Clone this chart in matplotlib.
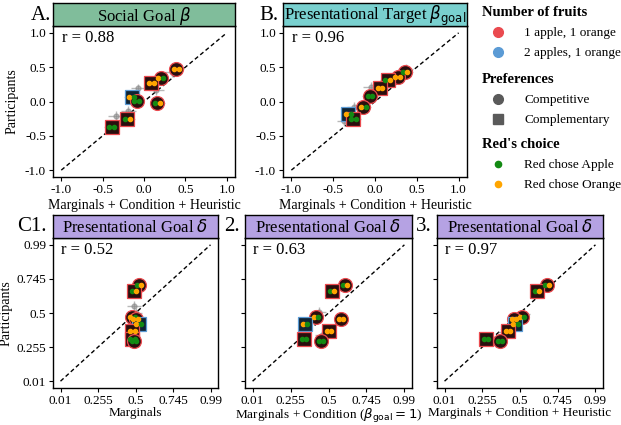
import matplotlib
matplotlib.use("Agg")
import matplotlib.pyplot as plt
from matplotlib.lines import Line2D

plt.rcParams['font.family'] = ['Liberation Serif', 'DejaVu Serif']
plt.rcParams['mathtext.fontset'] = 'dejavusans'
plt.rcParams['axes.unicode_minus'] = False

# ---- data ----
# panel A: Social Goal beta
a_x = [0.39, 0.20, 0.09, -0.15, -0.09, 0.16, -0.20, -0.39]
a_y = [0.47, 0.34, 0.27, 0.06, 0.01, -0.02, -0.25, -0.37]
a_shape = ['o', 'o', 's', 's', 'o', 'o', 's', 's']
a_fruits = ['1', '1', '1', '2', '1', '1', '1', '1']
a_dots = [('O', 'O'), ('O', 'G'), ('O', 'O'), ('O', 'G'), ('G', 'G'), ('G', 'O'), ('G', 'O'), ('G', 'G')]
a_grey_x = [-0.07, -0.19, -0.34, 0.15, 0.34]
a_grey_y = [0.19, -0.14, -0.21, 0.17, 0.43]

# panel B: Presentational Target beta_goal
b_x = [0.36, 0.27, 0.15, 0.06, -0.06, -0.14, -0.32, -0.26]
b_y = [0.43, 0.35, 0.32, 0.20, 0.08, -0.08, -0.18, -0.26]
b_shape = ['o', 'o', 's', 's', 'o', 'o', 's', 's']
b_fruits = ['1', '1', '1', '1', '1', '1', '2', '1']
b_dots = [('G', 'O'), ('O', 'O'), ('G', 'O'), ('O', 'O'), ('G', 'G'), ('O', 'G'), ('O', 'G'), ('G', 'G')]
b_grey_x = [-0.05, -0.25, -0.37, 0.37]
b_grey_y = [0.21, -0.08, -0.29, 0.47]

# panels C: Presentational Goal delta (same participants, three models)
c_y = [0.70, 0.655, 0.474, 0.460, 0.421, 0.372, 0.312, 0.302]
c_shape = ['o', 's', 'o', 'o', 's', 's', 's', 'o']
c_fruits = ['1', '1', '1', '1', '2', '1', '1', '1']
c_dots = [('G', 'O'), ('G', 'O'), ('O', 'G'), ('O', 'O'), ('O', 'G'), ('O', 'O'), ('G', 'G'), ('G', 'G')]
c1_x = [0.525, 0.49, 0.48, 0.50, 0.52, 0.48, 0.48, 0.49]
c2_x = [0.606, 0.524, 0.419, 0.580, 0.348, 0.505, 0.343, 0.451]
c3_x = [0.676, 0.611, 0.513, 0.463, 0.470, 0.422, 0.281, 0.368]
c1_grey_x, c1_grey_y = [0.50, 0.49], [0.50, 0.55]
c2_grey_x, c2_grey_y = [0.44, 0.46], [0.51, 0.34]
c3_grey_x, c3_grey_y = [0.52, 0.40], [0.49, 0.36]

r_values = ['0.88', '0.96', '0.52', '0.63', '0.97']
ab_ticks = [-1.0, -0.5, 0.0, 0.5, 1.0]
ab_labels = ['-1.0', '-0.5', '0.0', '0.5', '1.0']
c_ticks = [0.01, 0.255, 0.5, 0.745, 0.99]
c_labels = ['0.01', '0.255', '0.5', '0.745', '0.99']

EDGE = {'1': '#ea4a4f', '2': '#5b9bd5'}
FILL = {'1': '#2a0e0e', '2': '#0f2435'}
DOT = {'G': '#138a13', 'O': '#ffa500'}

W, H = 621, 425
fig = plt.figure(figsize=(W / 100, H / 100), dpi=100)


def rect(l, t, r, b):
    return [l / W, 1 - b / H, (r - l) / W, (b - t) / H]


def panel(box, strip_top, strip_col, title, letter, letter_x):
    l, t, r, b = box
    ax = fig.add_axes(rect(l, t, r, b))
    st = fig.add_axes(rect(l, strip_top, r, t))
    st.set_facecolor(strip_col)
    st.set_xticks([])
    st.set_yticks([])
    for s in st.spines.values():
        s.set_linewidth(1.0)
    st.text(0.5, 0.45, title, ha='center', va='center', fontsize=12, transform=st.transAxes)
    fig.text(letter_x / W, 1 - (strip_top + 12) / H, letter, fontsize=15, va='center', ha='left')
    for s in ax.spines.values():
        s.set_linewidth(1.0)
    ax.tick_params(labelsize=9.5, length=3, pad=2, direction='out')
    return ax


def draw(ax, xs, ys, shapes, fruits, dots, gx, gy, xerr, yerr, d):
    ax.errorbar(gx, gy, xerr=xerr, yerr=yerr, fmt='o', color='#8a8a8a', ms=3.5,
                elinewidth=1.0, alpha=0.6, zorder=2)
    ax.errorbar(xs, ys, xerr=xerr, yerr=yerr, fmt='none', ecolor='#9a9a9a',
                elinewidth=1.0, alpha=0.6, zorder=2)
    for x, y, m, f, dd in zip(xs, ys, shapes, fruits, dots):
        ms = 10 if m == 'o' else 9.5
        ax.plot(x, y, marker=m, ms=ms, mfc=FILL[f], mec=EDGE[f], mew=0.9, zorder=3)
        ax.plot(x - d, y, 'o', ms=3.0, color=DOT[dd[0]], zorder=4)
        ax.plot(x + d, y, 'o', ms=3.0, color=DOT[dd[1]], zorder=4)


# ---- top row ----
axA = panel((53, 26, 235, 177), 3, '#80bd9b', r'Social Goal $\beta$', 'A.', 31)
axB = panel((283, 26, 467, 177), 3, '#79d0cf', r'Presentational Target $\beta_{\mathrm{goal}}$', 'B.', 259)
draw(axA, a_x, a_y, a_shape, a_fruits, a_dots, a_grey_x, a_grey_y, 0.09, 0.07, 0.028)
draw(axB, b_x, b_y, b_shape, b_fruits, b_dots, b_grey_x, b_grey_y, 0.09, 0.07, 0.028)
for ax, r in zip([axA, axB], r_values[:2]):
    ax.plot([-1, 1], [-1, 1], ls='--', color='black', lw=1, dashes=(3, 2), zorder=1)
    ax.set_xlim(-1.1, 1.1)
    ax.set_ylim(-1.1, 1.1)
    ax.set_xticks(ab_ticks)
    ax.set_xticklabels(ab_labels)
    ax.set_yticks(ab_ticks)
    ax.set_yticklabels(ab_labels)
    ax.set_xlabel('Marginals + Condition + Heuristic', fontsize=10, labelpad=2)
    ax.text(0.05, 0.975, 'r = ' + r, transform=ax.transAxes, va='top', fontsize=12)
axA.set_ylabel('Participants', fontsize=10)
axA.yaxis.set_label_coords(-0.19, 0.5)

# ---- bottom row ----
ax1 = panel((53, 238, 218, 388), 215, '#b5a2e3', r'Presentational Goal $\delta$', 'C1.', 17)
ax2 = panel((245, 238, 412, 388), 215, '#b5a2e3', r'Presentational Goal $\delta$', '2.', 224)
ax3 = panel((437, 238, 603, 388), 215, '#b5a2e3', r'Presentational Goal $\delta$', '3.', 416)
draw(ax1, c1_x, c_y, c_shape, c_fruits, c_dots, c1_grey_x, c1_grey_y, 0.045, 0.035, 0.014)
draw(ax2, c2_x, c_y, c_shape, c_fruits, c_dots, c2_grey_x, c2_grey_y, 0.045, 0.035, 0.014)
draw(ax3, c3_x, c_y, c_shape, c_fruits, c_dots, c3_grey_x, c3_grey_y, 0.045, 0.035, 0.014)
xlabels = ['Marginals', r'Marginals + Condition ($\beta_{\mathrm{goal}} = 1$)',
           'Marginals + Condition + Heuristic']
for i, (ax, r, xl) in enumerate(zip([ax1, ax2, ax3], r_values[2:], xlabels)):
    ax.plot([0.01, 0.99], [0.01, 0.99], color='black', lw=1, ls='--', dashes=(3, 2), zorder=1)
    ax.set_xlim(-0.039, 1.039)
    ax.set_ylim(-0.039, 1.039)
    ax.set_xticks(c_ticks)
    ax.set_xticklabels(c_labels)
    ax.set_yticks(c_ticks)
    ax.set_yticklabels(c_labels if i == 0 else [])
    ax.set_xlabel(xl, fontsize=9.5, labelpad=0)
    ax.text(0.05, 0.975, 'r = ' + r, transform=ax.transAxes, va='top', fontsize=12)
ax1.set_ylabel('Participants', fontsize=10)
ax1.yaxis.set_label_coords(-0.245, 0.5)

# ---- legends ----
leg_kw = dict(loc='upper left', frameon=False, fontsize=9.5, alignment='left',
              handlelength=2.4, handletextpad=0.8, labelspacing=0.6, borderpad=0,
              borderaxespad=0, title_fontproperties={'weight': 'bold', 'size': 10.5})
h1 = [Line2D([], [], ls='', marker='o', ms=7, color=EDGE['1']),
      Line2D([], [], ls='', marker='o', ms=7, color=EDGE['2'])]
h2 = [Line2D([], [], ls='', marker='o', ms=7, color='#5a5a5a'),
      Line2D([], [], ls='', marker='s', ms=6.5, color='#5a5a5a')]
h3 = [Line2D([], [], ls='', marker='o', ms=4.5, color=DOT['G']),
      Line2D([], [], ls='', marker='o', ms=4.5, color=DOT['O'])]
fig.legend(h1, ['1 apple, 1 orange', '2 apples, 1 orange'], title='Number of fruits',
           bbox_to_anchor=(482 / W, 1 - 6 / H), **leg_kw)
fig.legend(h2, ['Competitive', 'Complementary'], title='Preferences',
           bbox_to_anchor=(482 / W, 1 - 73 / H), **leg_kw)
fig.legend(h3, ['Red chose Apple', 'Red chose Orange'], title="Red's choice",
           bbox_to_anchor=(482 / W, 1 - 138 / H), **leg_kw)

fig.savefig('out.png', dpi=100)
